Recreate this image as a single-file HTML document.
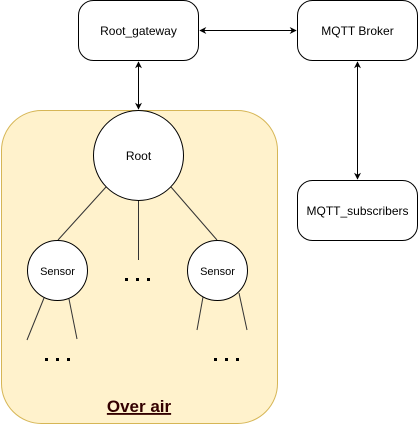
<!DOCTYPE html>
<html><head><style>body{margin:0;background:#fff}</style></head><body>
<svg width="418" height="426" xmlns="http://www.w3.org/2000/svg" font-family="'Liberation Sans', Arial, sans-serif">
<defs><marker id="a" viewBox="0 0 10 10" refX="9" refY="5" markerWidth="7" markerHeight="7" orient="auto-start-reverse"><path d="M0,0 L10,5 L0,10 L3,5 z" fill="#000"/></marker></defs>
<rect x="1.5" y="110.5" width="276" height="313" rx="40" fill="#fff2cc" stroke="#d6b656"/>
<rect x="78.5" y="0.5" width="120" height="60" rx="15" fill="#fff" stroke="#000"/>
<text x="138.5" y="35" font-size="12" text-anchor="middle">Root_gateway</text>
<rect x="297.5" y="0.5" width="120" height="60" rx="15" fill="#fff" stroke="#000"/>
<text x="357.5" y="35" font-size="12" text-anchor="middle">MQTT Broker</text>
<rect x="297.5" y="180.5" width="120" height="60" rx="15" fill="#fff" stroke="#000"/>
<text x="357.5" y="215" font-size="12" text-anchor="middle">MQTT_subscribers</text>
<line x1="200" y1="30.5" x2="296" y2="30.5" stroke="#000" marker-start="url(#a)" marker-end="url(#a)"/>
<line x1="138.5" y1="62" x2="138.5" y2="109" stroke="#000" marker-start="url(#a)" marker-end="url(#a)"/>
<line x1="357.5" y1="62" x2="357.5" y2="179" stroke="#000" marker-start="url(#a)" marker-end="url(#a)"/>
<g stroke="#333" stroke-width="1">
<line x1="106" y1="187" x2="58" y2="240"/>
<line x1="171" y1="187" x2="217" y2="240"/>
<line x1="138.5" y1="200" x2="138.5" y2="260"/>
<line x1="44" y1="298" x2="27" y2="340"/>
<line x1="69" y1="299" x2="77" y2="339"/>
<line x1="203" y1="297" x2="197" y2="330"/>
<line x1="239" y1="293" x2="247" y2="330"/>
</g>
<circle cx="138.5" cy="155.5" r="45" fill="#fff" stroke="#000"/>
<text x="138.5" y="160" font-size="12" text-anchor="middle">Root</text>
<circle cx="57.5" cy="270.5" r="30" fill="#fff" stroke="#000"/>
<text x="57.5" y="275" font-size="11" text-anchor="middle">Sensor</text>
<circle cx="217.5" cy="270.5" r="30" fill="#fff" stroke="#000"/>
<text x="217.5" y="275" font-size="11" text-anchor="middle">Sensor</text>
<g fill="#000">
<rect x="125" y="278" width="3" height="3"/><rect x="136" y="278" width="3" height="3"/><rect x="147" y="278" width="3" height="3"/>
<rect x="45" y="358" width="3" height="3"/><rect x="56" y="358" width="3" height="3"/><rect x="67" y="358" width="3" height="3"/>
<rect x="214" y="358" width="3" height="3"/><rect x="225" y="358" width="3" height="3"/><rect x="236" y="358" width="3" height="3"/>
</g>
<text x="139" y="412" font-size="17" font-weight="bold" fill="#330000" text-anchor="middle" text-decoration="underline">Over air</text>
<line x1="107" y1="414" x2="171" y2="414" stroke="#330000" stroke-width="1.5"/>
</svg>
</body></html>
